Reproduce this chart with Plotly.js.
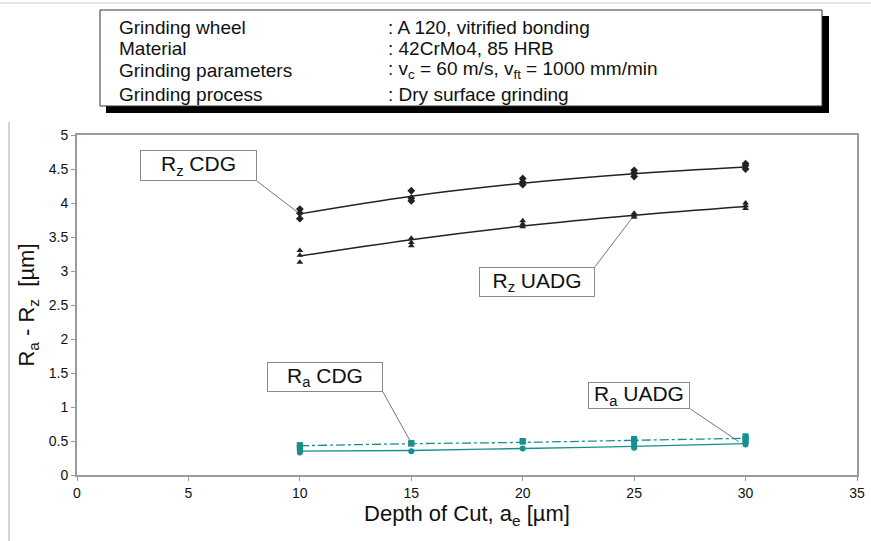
<!DOCTYPE html>
<html>
<head>
<meta charset="utf-8">
<script src="https://cdn.plot.ly/plotly-3.0.1.min.js"></script>
<style>html,body{margin:0;padding:0;background:#fff;}#chart{width:871px;height:541px;}</style>
</head>
<body>
<div id="chart"></div>
<script>
// Measured points
var rzCdgX = [10,10,10,15,15,15,20,20,20,25,25,25,30,30,30];
var rzCdgY = [3.91,3.85,3.77,4.18,4.07,4.03,4.36,4.31,4.27,4.48,4.44,4.39,4.58,4.55,4.50];
var rzUadgX = [10,10,10,15,15,15,20,20,20,25,25,25,30,30,30];
var rzUadgY = [3.30,3.23,3.13,3.48,3.42,3.37,3.74,3.69,3.65,3.85,3.82,3.79,4.00,3.96,3.92];
var raCdgX = [10,10,10,15,15,20,20,25,25,25,30,30,30];
var raCdgY = [0.44,0.42,0.40,0.47,0.46,0.50,0.49,0.53,0.51,0.49,0.57,0.54,0.51];
var raUadgX = [10,10,15,20,25,25,30,30];
var raUadgY = [0.36,0.33,0.35,0.39,0.43,0.40,0.48,0.45];
// Trend lines
var trendX = [10,15,20,25,30];
var rzCdgFit = [3.84,4.10,4.29,4.43,4.53];
var rzUadgFit = [3.22,3.46,3.66,3.82,3.95];
var raCdgFit = [0.43,0.46,0.48,0.51,0.54];
var raUadgFit = [0.35,0.36,0.39,0.42,0.46];
// Ticks
var xTicks = [0,5,10,15,20,25,30,35];
var yTicks = [0,0.5,1,1.5,2,2.5,3,3.5,4,4.5,5];
var yTickText = ['0','0.5','1','1.5','2','2.5','3','3.5','4','4.5','5'];
// Info box text
var infoLabels = ['Grinding wheel','Material','Grinding parameters','Grinding process'];
var infoValues = [': A 120, vitrified bonding', ': 42CrMo4, 85 HRB',
  ': v<sub>c</sub> = 60 m/s, v<sub>ft</sub> = 1000 mm/min', ': Dry surface grinding'];

var black = '#222222', teal = '#178f8f';
var FONT = 'Liberation Sans, Arial, sans-serif';

var traces = [
  {x: trendX, y: rzCdgFit, mode:'lines', line:{color:black,width:1.5,shape:'spline'}, hoverinfo:'skip'},
  {x: trendX, y: rzUadgFit, mode:'lines', line:{color:black,width:1.5,shape:'spline'}, hoverinfo:'skip'},
  {x: trendX, y: raCdgFit, mode:'lines', line:{color:teal,width:1.3,dash:'dashdot',shape:'spline'}, hoverinfo:'skip'},
  {x: trendX, y: raUadgFit, mode:'lines', line:{color:teal,width:1.3,shape:'spline'}, hoverinfo:'skip'},
  {x: rzCdgX, y: rzCdgY, mode:'markers', marker:{symbol:'diamond',size:6,color:black}},
  {x: rzUadgX, y: rzUadgY, mode:'markers', marker:{symbol:'triangle-up',size:6,color:black}},
  {x: raCdgX, y: raCdgY, mode:'markers', marker:{symbol:'square',size:6,color:teal}},
  {x: raUadgX, y: raUadgY, mode:'markers', marker:{symbol:'circle',size:6,color:teal}}
];

var L=77, R=857, T=135, B=475;
function px(p){return (p-L)/(R-L);}
function py(p){return (B-p)/(B-T);}

var annotations = [];
var infoY = [27,48,70,94];
for (var i=0;i<infoLabels.length;i++){
  annotations.push({xref:'paper',yref:'paper',x:px(117),y:py(infoY[i]),xanchor:'left',yanchor:'middle',
    text:infoLabels[i],showarrow:false,font:{family:FONT,size:19,color:'#111'}});
  annotations.push({xref:'paper',yref:'paper',x:px(386),y:py(infoY[i]),xanchor:'left',yanchor:'middle',
    text:infoValues[i],showarrow:false,font:{family:FONT,size:19,color:'#111'}});
}
function box(txt,x,y,w,h){
  return {x:x,y:y,xref:'x',yref:'y',text:txt,showarrow:false,width:w,height:h,
    bordercolor:'#8a8a8a',borderwidth:1,bgcolor:'#fff',borderpad:0,
    font:{family:FONT,size:21,color:'#111'}};
}
annotations.push(box('R<sub>z</sub> CDG',5.45,4.55,115,29));
annotations.push(box('R<sub>z</sub> UADG',20.64,2.84,114,28));
annotations.push(box('R<sub>a</sub> CDG',11.13,1.44,114,28));
annotations.push(box('R<sub>a</sub> UADG',25.22,1.17,100,25));

function lead(x0,y0,x1,y1){return {type:'line',xref:'x',yref:'y',x0:x0,y0:y0,x1:x1,y1:y1,line:{color:'#777',width:1},layer:'below'};}
var shapes = [
  lead(8.08,4.32,10,3.84),
  lead(23.24,3.06,25,3.82),
  lead(13.73,1.22,15,0.47),
  lead(27.53,0.97,29.7,0.49),
  {type:'rect',xref:'paper',yref:'paper',x0:px(106),x1:px(829),y0:py(16),y1:py(113),fillcolor:'#000',line:{width:0}},
  {type:'rect',xref:'paper',yref:'paper',x0:px(100),x1:px(822),y0:py(10),y1:py(106),fillcolor:'#fff',line:{color:'#333',width:1}},
  {type:'line',xref:'paper',yref:'paper',x0:px(9),x1:px(9),y0:py(122),y1:py(541),line:{color:'#aaa',width:1}},
  {type:'line',xref:'paper',yref:'paper',x0:px(0),x1:px(871),y0:py(3),y1:py(3),line:{color:'#ccc',width:1}}
];

var layout = {
  width:871, height:541,
  margin:{l:L,r:871-R,t:T,b:541-B},
  paper_bgcolor:'#fff', plot_bgcolor:'#fff',
  showlegend:false,
  font:{family:FONT,color:'#111'},
  xaxis:{range:[0,35],tickvals:xTicks,ticks:'outside',ticklen:4,tickcolor:'#999',
    showline:true,linecolor:'#9a9a9a',linewidth:2,mirror:true,showgrid:false,zeroline:false,
    tickfont:{family:FONT,size:14,color:'#111'},
    title:{text:'Depth of Cut, a<sub>e</sub> [µm]',font:{family:FONT,size:22,color:'#111'},standoff:6}},
  yaxis:{range:[0,5],tickvals:yTicks,ticktext:yTickText,ticks:'outside',ticklen:4,tickcolor:'#999',
    showline:true,linecolor:'#9a9a9a',linewidth:2,mirror:true,showgrid:false,zeroline:false,
    tickfont:{family:FONT,size:14,color:'#111'},
    title:{text:'R<sub>a</sub> - R<sub>z</sub>  [µm]',font:{family:FONT,size:22,color:'#111'},standoff:8}},
  annotations:annotations,
  shapes:shapes
};
Plotly.newPlot('chart',traces,layout,{displayModeBar:false,staticPlot:true});
</script>
</body>
</html>
